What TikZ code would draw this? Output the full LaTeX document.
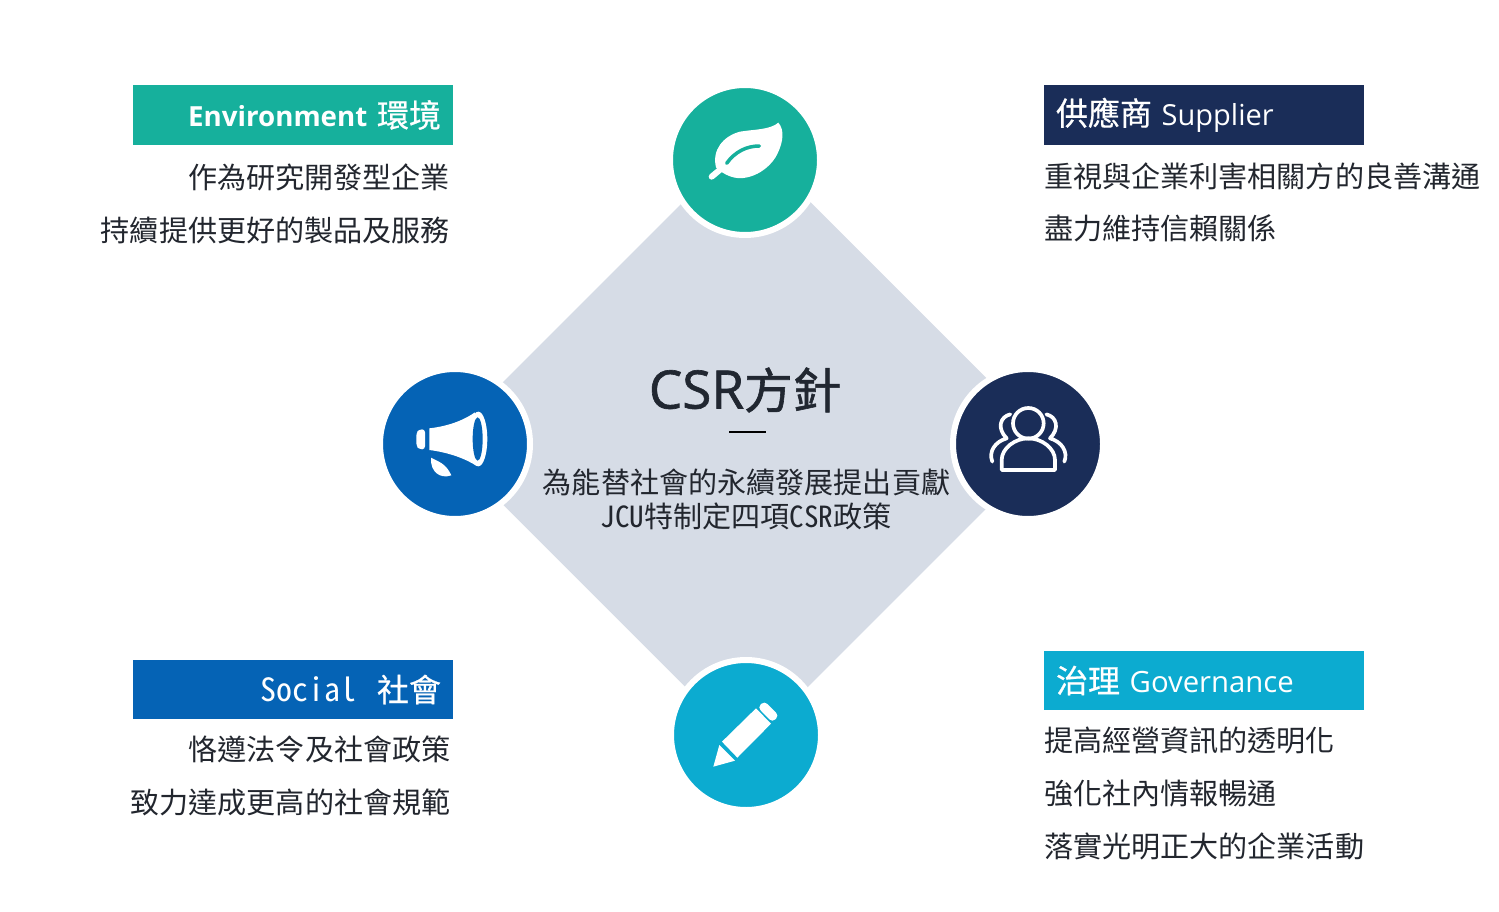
\documentclass[tikz,border=0pt]{standalone}
\usepackage{fontspec}
\setmainfont{Noto Sans CJK TC}
\newfontfamily\latinfont{Open Sans}
\newfontfamily\halffont[RawFeature=+hwid]{Noto Sans CJK TC}
\newfontfamily\heavyfont[FakeBold=0.6]{Noto Sans CJK TC}
\newfontfamily\titlefont[FakeBold=1.2]{Noto Sans CJK TC}
\newfontfamily\titlelatin[FakeBold=1.2]{Open Sans}
\usepackage{tikz}
\usetikzlibrary{calc}
\usetikzlibrary{shapes.geometric}
\definecolor{envgreen}{HTML}{16B09C}
\definecolor{supnavy}{HTML}{1A2D58}
\definecolor{socblue}{HTML}{0563B5}
\definecolor{govcyan}{HTML}{0CABD0}
\definecolor{csrgrey}{HTML}{D6DCE6}
\definecolor{csrtext}{HTML}{22262E}
\newcommand{\headcjk}[1]{{\heavyfont\fontsize{32}{36}\selectfont #1}}
\tikzset{
  badge/.style={circle,draw=white,line width=6pt,minimum size=150pt,inner sep=0pt},
  headbox/.style={minimum height=60pt,text width=296pt,inner xsep=12pt,inner ysep=0pt,text=white,font=\fontsize{29}{34}\selectfont},
  rightline/.style={anchor=east,inner sep=0pt,text=csrtext,font=\fontsize{29.1}{34}\selectfont},
  leftline/.style={anchor=west,inner sep=0pt,text=csrtext,font=\fontsize{29.1}{34}\selectfont},
  midline/.style={inner sep=0pt,text=csrtext,font=\halffont\fontsize{29.1}{34}\selectfont}
}
\begin{document}
\begin{tikzpicture}[x=1pt,y=-1pt]
\useasboundingbox (0,0) rectangle (1499,912);
\node (csr) at (746.7,443.3) [diamond,aspect=1,fill=csrgrey,minimum width=610pt,minimum height=610pt,inner sep=0pt] {};
\node (leaf) at (745,160) [badge,fill=envgreen] {};
\node (horn) at (455,444) [badge,fill=socblue] {};
\node (group) at (1028,444) [badge,fill=supnavy] {};
\node (pen) at (746,735) [badge,fill=govcyan] {};

\node (env) at (293,115) [headbox,fill=envgreen,align=right] {{\latinfont\bfseries\fontsize{27.7}{34}\selectfont Environment} \raisebox{-1pt}{\headcjk{環境}}};
\node (sup) at (1204,115) [headbox,fill=supnavy,align=left] {\raisebox{-1pt}{\headcjk{供應商}} \raisebox{-1pt}{\latinfont Supplier}};
\node (soc) at (293,689.5) [headbox,minimum height=59pt,fill=socblue,align=right] {\raisebox{-5pt}{{\halffont\fontsize{32}{36}\selectfont Social}\hspace{21pt}\headcjk{社會}}};
\node (gov) at (1204,680.5) [headbox,minimum height=59pt,fill=govcyan,align=left] {\headcjk{治理} {\latinfont\fontsize{29.3}{34}\selectfont Governance}};

\node (envA) at ($(env.south east)+(-3,32)$) [rightline] {作為研究開發型企業};
\node (envB) at ($(env.south east)+(-3,85)$) [rightline] {持續提供更好的製品及服務};
\node (supA) at ($(sup.south west)+(0,31)$) [leftline] {重視與企業利害相關方的良善溝通};
\node (supB) at ($(sup.south west)+(0,83)$) [leftline] {盡力維持信賴關係};
\node (socA) at ($(soc.south east)+(-2.5,30)$) [rightline] {恪遵法令及社會政策};
\node (socB) at ($(soc.south east)+(-2.5,83)$) [rightline] {致力達成更高的社會規範};
\node (govA) at ($(gov.south west)+(0,30)$) [leftline] {提高經營資訊的透明化};
\node (govB) at ($(gov.south west)+(0,83)$) [leftline] {強化社內情報暢通};
\node (govC) at ($(gov.south west)+(0,136)$) [leftline] {落實光明正大的企業活動};

\node (title) at (745,390) [inner sep=0pt,text=csrtext!92!supnavy] {{\titlelatin\fontsize{53}{58}\selectfont CSR}{\titlefont\fontsize{48.5}{58}\selectfont 方針}};
\coordinate (ruleL) at (729,432);
\coordinate (ruleR) at (766,432);
\draw [black,line width=1.5pt] (ruleL) -- (ruleR);
\node (subA) at (746.5,482) [midline] {為能替社會的永續發展提出貢獻};
\node (subB) at (746,516) [midline] {JCU特制定四項CSR政策};

\begin{scope}[shift={(660,80)},scale=1/3]
\fill [white] (355,128) .. controls (330,150) and (280,148) .. (240,155) .. controls (190,168) and (155,210) .. (168,262) .. controls (195,288) and (225,297) .. (250,294) .. controls (300,288) and (338,252) .. (352,222) .. controls (370,185) and (374,150) .. (355,128) -- cycle;
\draw [white,line width=6pt,line cap=round] (155,290) -- (185,265);
\draw [envgreen,line width=3.5pt,line cap=round] (200,250) .. controls (225,215) and (260,198) .. (298,198);
\end{scope}

\begin{scope}[shift={(370,360)},scale=1/3]
\fill [white,rounded corners=3pt] (165,208) -- (148,208) -- (139,218) -- (139,258) -- (148,268) -- (165,268) -- cycle;
\fill [white] (178,205) .. controls (240,198) and (285,178) .. (315,157) -- (320,318) .. controls (290,298) and (240,278) .. (178,270) -- cycle;
\fill [white] (325,237) ellipse [x radius=27,y radius=82];
\fill [socblue] (323,237) ellipse [x radius=15,y radius=65];
\fill [white] (183,293) .. controls (205,305) and (228,310) .. (244,346) .. controls (210,358) and (180,335) .. (183,293) -- cycle;
\end{scope}

\begin{scope}[shift={(945,360)},scale=1/3,white,line width=3.7pt,line cap=round,line join=round]
\draw (250,190) circle [radius=46];
\draw (170,330) -- (330,330) -- (330,300) .. controls (330,265) and (290,235) .. (250,235) .. controls (210,235) and (170,265) .. (170,300) -- cycle;
\draw (196,163) .. controls (165,170) and (155,205) .. (185,235) .. controls (150,245) and (130,275) .. (142,305);
\draw (304,163) .. controls (335,170) and (345,205) .. (315,235) .. controls (350,245) and (370,275) .. (358,305);
\end{scope}

\begin{scope}[shift={(660,650)},scale=1/3]
\fill [white] (160,350) -- (178,285) -- (225,332) -- cycle;
\fill [white] (186,275) -- (288,175) -- (333,221) -- (232,323) -- cycle;
\fill [white,rounded corners=4pt] (293,172) -- (313,153) -- (357,197) -- (337,217) -- cycle;
\end{scope}
\end{tikzpicture}
\end{document}
